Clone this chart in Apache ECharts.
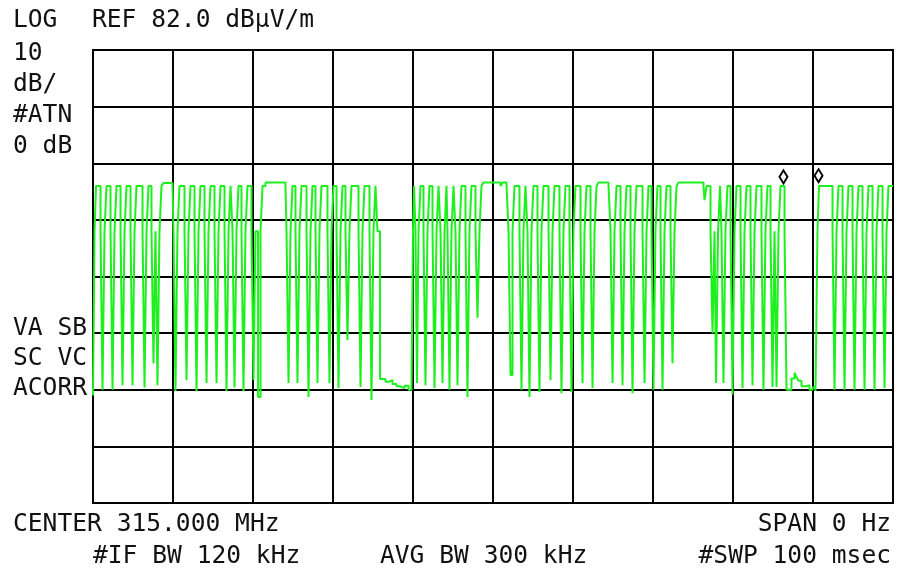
<!DOCTYPE html>
<html>
<head>
<meta charset="utf-8">
<script src="https://cdn.jsdelivr.net/npm/echarts@6/dist/echarts.min.js"></script>
<style>
html,body{margin:0;padding:0;background:#fff;}
#chart{width:897px;height:576px;}
</style>
</head>
<body>
<div id="chart"></div>
<script>
// Axis definitions (zero span, 100 ms sweep; REF 82.0 dBuV/m, 10 dB/div)
const sweepMs = [0, 100];
const refLevel = 82;
const dbPerDiv = 10;
const divisions = 8;

// Header / annotation texts
const topTexts = ['LOG', 'REF 82.0 dBµV/m'];
const leftTexts = ['10', 'dB/', '#ATN', '0 dB'];
const leftLowerTexts = ['VA SB', 'SC VC', 'ACORR'];
const bottomTexts = ['CENTER 315.000 MHz', 'SPAN 0 Hz', '#IF BW 120 kHz', 'AVG BW 300 kHz', '#SWP 100 msec'];

// Trace change points [time ms, level dBuV/m] (level held until next point)
const trace = [
[0.00,21.0],[0.19,50],[0.38,58],
[0.94,50],[1.19,22.0],[1.44,50],[1.69,58],
[2.19,50],[2.44,22.0],[2.69,50],[2.94,58],
[3.44,50],[3.69,22.8],[3.94,50],[4.19,58],
[4.69,50],[4.94,22.8],[5.19,50],[5.44,58],
[6.19,50],[6.44,22.4],[6.69,50],[6.94,58],
[7.31,50],[7.56,26.7],[7.81,50],[8.06,22.8],[8.31,50],[8.56,58],
[8.81,58.5],[9.94,58],
[10.06,50],[10.31,21.8],[10.56,50],[10.81,58],
[11.44,50],[11.69,23.7],[11.94,50],[12.19,58],
[12.69,50],[12.94,21.8],[13.19,50],[13.44,58],
[13.94,50],[14.19,23.2],[14.44,50],[14.69,58],
[15.19,50],[15.44,23.2],[15.69,50],[15.94,58],
[16.44,50],[16.69,21.8],[16.94,50],[17.19,58],
[17.44,50],[17.69,22.4],[17.94,50],[18.19,58],
[18.56,50],[18.81,21.8],[19.06,50],[19.31,58],
[19.81,50],[20.06,23.7],[20.31,50],[20.63,20.7],[20.94,50],[21.19,58],
[21.56,58.6],[24.06,58],
[24.19,50],[24.44,23.2],[24.69,50],[24.94,58],
[25.31,50],[25.56,23.2],[25.81,50],[26.06,58],
[26.69,50],[26.94,20.7],[27.19,50],[27.44,58],
[27.81,50],[28.06,23.2],[28.31,50],[28.56,58],
[29.31,50],[29.56,23.2],[29.81,50],[30.06,58],
[30.44,50],[30.69,22.3],[30.94,50],[31.19,58],
[31.56,50],[31.81,30.8],[32.06,50],[32.31,58],
[33.19,50],[33.44,22.5],[33.69,50],[33.94,58],
[34.56,50],[34.81,20.2],[35.06,50],[35.31,58],
[35.56,50],[35.88,23.9],[36.56,23.4],[36.94,23.7],[37.44,23.0],[37.94,22.6],[38.44,22.3],[38.94,22.7],[39.44,22.0],[39.81,21.8],
[40.00,50],[40.13,58],
[40.31,50],[40.50,23.2],[40.69,50],[40.94,58],
[41.31,50],[41.56,22.8],[41.81,50],[42.06,58],
[42.44,50],[42.69,22.3],[42.94,50],[43.19,58],
[43.44,50],[43.69,23.2],[43.94,50],[44.19,58],
[44.31,50],[44.56,22.0],[44.81,50],[45.06,58],
[45.31,50],[45.56,22.8],[45.81,50],[46.06,58],
[46.56,50],[46.81,20.7],[47.06,50],[47.31,58],
[47.81,50],[48.06,34.7],[48.31,50],[48.56,58],
[48.81,58.6],[50.94,58],[51.19,58.6],[51.69,58],
[51.94,50],[52.19,24.6],[52.44,50],[52.69,58],
[53.31,50],[53.56,22.0],[53.81,50],[54.06,58],
[54.31,50],[54.56,20.7],[54.81,50],[55.06,58],
[55.56,50],[55.81,21.6],[56.06,50],[56.31,58],
[56.94,50],[57.19,23.7],[57.44,50],[57.69,58],
[58.31,50],[58.56,21.4],[58.81,50],[59.06,58],
[59.56,50],[59.81,21.6],[60.06,50],[60.31,58],
[60.94,50],[61.19,23.2],[61.44,50],[61.69,58],
[62.19,50],[62.44,22.3],[62.69,50],[62.94,58],
[63.19,58.6],[64.44,58],
[64.69,50],[64.94,23.2],[65.19,50],[65.44,58],
[65.94,50],[66.19,22.8],[66.44,50],[66.69,58],
[67.19,50],[67.44,21.4],[67.69,50],[67.94,58],
[68.69,50],[68.94,23.2],[69.19,50],[69.44,58],
[69.81,50],[70.06,22.0],[70.31,50],[70.56,58],
[70.94,50],[71.19,22.0],[71.44,50],[71.69,58],
[72.19,50],[72.44,26.7],[72.69,50],[72.94,58],
[73.19,58.6],[76.31,58],[76.44,55.5],[76.69,58],
[77.19,50],[77.44,32.0],[77.69,50],[77.88,23.2],[78.13,50],[78.38,58],
[78.56,50],[78.81,23.2],[79.06,50],[79.31,58],
[79.69,50],[79.94,21.1],[80.19,50],[80.44,58],
[80.94,50],[81.19,22.3],[81.44,50],[81.69,58],
[82.19,50],[82.44,22.8],[82.69,50],[82.94,58],
[83.56,50],[83.81,22.0],[84.06,50],[84.31,58],
[84.69,50],[84.94,22.5],[85.19,50],[85.44,22.5],[85.69,50],[85.94,58],
[86.44,50],[86.69,22.0],[87.31,24.0],[87.69,25.0],[87.94,24.2],[88.19,23.6],[88.56,22.6],[89.06,22.8],[89.56,22.0],[89.94,22.4],[90.31,21.8],
[90.56,50],[90.75,58],
[92.44,50],[92.69,22.0],[92.94,50],[93.19,58],
[93.69,50],[93.94,22.0],[94.19,50],[94.44,58],
[94.94,50],[95.19,22.0],[95.44,50],[95.69,58],
[96.19,50],[96.44,22.0],[96.69,50],[96.94,58],
[97.44,50],[97.69,22.0],[97.94,50],[98.19,58],
[98.69,50],[98.94,22.3],[99.19,50],[99.44,58],
[100,58]
];

// Marker positions [time ms, level]
const markers = [[86.31, 59.6], [90.69, 59.8]];

const FONT = '24.6px "DejaVu Sans Mono", "Liberation Mono", monospace';

function txt(text, x, y, align) {
  return {
    type: 'text', x: x, y: y, silent: true,
    style: { text: text, font: FONT, fill: '#111',
      align: align || 'left', verticalAlign: 'middle',
      textAlign: align || 'left', textVerticalAlign: 'middle' }
  };
}

const graphics = [
  txt(topTexts[0], 13, 21),
  txt(topTexts[1], 92, 21),
  txt(leftTexts[0], 13, 54),
  txt(leftTexts[1], 13, 85),
  txt(leftTexts[2], 13, 116),
  txt(leftTexts[3], 13, 147),
  txt(leftLowerTexts[0], 13, 329),
  txt(leftLowerTexts[1], 13, 359),
  txt(leftLowerTexts[2], 13, 389),
  txt(bottomTexts[0], 13, 525),
  txt(bottomTexts[1], 891, 525, 'right'),
  txt(bottomTexts[2], 93, 557),
  txt(bottomTexts[3], 380, 557),
  txt(bottomTexts[4], 891, 557, 'right')
];

const chart = echarts.init(document.getElementById('chart'), null, { renderer: 'canvas' });
chart.setOption({
  animation: false,
  backgroundColor: '#ffffff',
  grid: { left: 93, right: 4, top: 50, bottom: 73, show: true,
    borderColor: '#000', borderWidth: 2, backgroundColor: 'transparent' },
  xAxis: {
    type: 'value', min: sweepMs[0], max: sweepMs[1], interval: 10,
    axisLine: { show: false }, axisTick: { show: false }, axisLabel: { show: false },
    splitLine: { show: true, lineStyle: { color: '#000', width: 2 } }
  },
  yAxis: {
    type: 'value', min: refLevel - dbPerDiv * divisions, max: refLevel, interval: dbPerDiv,
    axisLine: { show: false }, axisTick: { show: false }, axisLabel: { show: false },
    splitLine: { show: true, lineStyle: { color: '#000', width: 2 } }
  },
  graphic: graphics,
  series: [
    {
      type: 'line', data: trace, step: 'end', showSymbol: false, symbol: 'none',
      lineStyle: { color: '#1ef01e', width: 2 }, z: 3
    },
    {
      type: 'scatter', data: markers, symbol: 'diamond', symbolSize: [8, 13],
      itemStyle: { color: 'rgba(255,255,255,0)', borderColor: '#000', borderWidth: 2, opacity: 1 }, z: 4
    }
  ]
});
</script>
</body>
</html>
